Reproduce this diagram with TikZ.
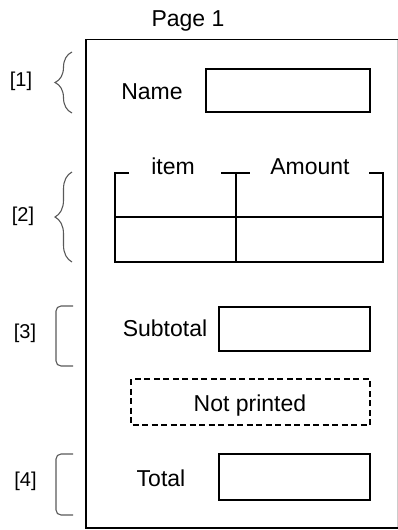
\documentclass[tikz,border=0pt]{standalone}
\usepackage{fontspec}
\setmainfont{Liberation Sans}
\usetikzlibrary{decorations.pathreplacing}

\tikzset{
  field/.style={draw, line width=1.4pt},
  rule/.style={draw, line width=1.2pt},
  grp/.style={draw=black!65, line width=1.1pt},
  lbl/.style={inner sep=0pt, anchor=base, font=\fontsize{23}{27}\selectfont},
  tag/.style={inner sep=0pt, anchor=base, font=\fontsize{20}{24}\selectfont},
}

\begin{document}
\begin{tikzpicture}[x=1pt,y=-1pt]
  \useasboundingbox (0,0) rectangle (398,530);

  \coordinate (TL) at (86,39.5);
  \coordinate (TR) at (397.5,39.5);
  \coordinate (BL) at (86,528);
  \coordinate (BR) at (397.5,528);

  \draw[black!20, line width=0.8pt] (TR) -- (BR);
  \draw[rule] (TR) -- (TL) -- (BL) -- (BR);

  \node[lbl] (page) at (188,26) {Page 1};

  % [1]
  \node[lbl] (name) at (152,99.5) {Name};
  \draw[field] (206,69) rectangle (370,112);

  % [2]
  \coordinate (A) at (115,173);
  \coordinate (B) at (236,173);
  \coordinate (C) at (383,173);
  \draw[rule] (129,173) -- (A) -- (115,262) -- (383,262) -- (C) -- (369,173);
  \draw[rule] (221,173) -- (250,173);
  \draw[rule] (B) -- (236,262);
  \draw[rule] (115,217) -- (383,217);
  \node[lbl] (item) at (173,174.5) {item};
  \node[lbl] (amount) at (310,174.5) {Amount};

  % [3]
  \node[lbl] (subtotal) at (165,336.5) {Subtotal};
  \draw[field] (219,307) rectangle (370,351);

  \draw[field, line width=1.2pt, dash pattern=on 6pt off 3.5pt] (131,379) rectangle (370,425);
  \node[lbl] (notprinted) at (250,411.5) {Not printed};

  % [4]
  \node[lbl] (total) at (161,486.5) {Total};
  \draw[field] (219,454) rectangle (370,500);

  % group marks
  \draw[grp, decorate, decoration={brace, amplitude=17pt}] (72,113) -- (72,52);
  \draw[grp, decorate, decoration={brace, amplitude=17pt}] (72,262) -- (72,172);
  \draw[grp, rounded corners=5pt] (73,306) -- (56,306) -- (56,366) -- (73,366);
  \draw[grp, rounded corners=5pt] (73,454) -- (56,454) -- (56,515) -- (73,515);

  \node[tag] (g1) at (21,86) {[1]};
  \node[tag] (g2) at (23,221) {[2]};
  \node[tag] (g3) at (25,338) {[3]};
  \node[tag] (g4) at (25.5,486) {[4]};
\end{tikzpicture}
\end{document}
